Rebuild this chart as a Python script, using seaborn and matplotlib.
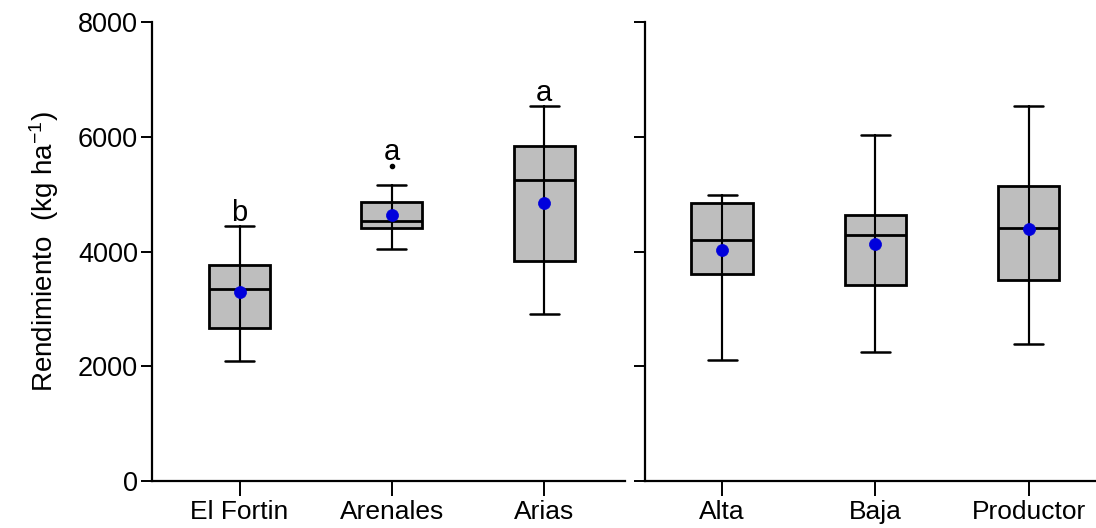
import matplotlib
matplotlib.use("Agg")
import matplotlib.pyplot as plt
import seaborn as sns
import pandas as pd
import numpy as np

# ---- data ----
loc_names = ["El Fortin", "Arenales", "Arias"]
loc_whislo = [2100, 4050, 2920]
loc_q1 = [2670, 4410, 3830]
loc_med = [3345, 4540, 5240]
loc_q3 = [3760, 4860, 5840]
loc_whishi = [4445, 5155, 6530]
loc_mean = [3290, 4645, 4840]
loc_fliers = [[], [5500], []]
loc_letters = ["b", "a", "a"]

amb_names = ["Alta", "Baja", "Productor"]
amb_whislo = [2110, 2255, 2385]
amb_q1 = [3605, 3420, 3510]
amb_med = [4200, 4290, 4420]
amb_q3 = [4850, 4635, 5150]
amb_whishi = [4995, 6025, 6545]
amb_mean = [4020, 4125, 4390]

y_ticks = [0, 2000, 4000, 6000, 8000]

sns.set_theme(style="ticks")
plt.rcParams["font.family"] = ["Liberation Sans", "DejaVu Sans"]
plt.rcParams["mathtext.fontset"] = "custom"
plt.rcParams["mathtext.rm"] = "Liberation Sans"
plt.rcParams["mathtext.it"] = "Liberation Sans"
plt.rcParams["text.color"] = "black"
plt.rcParams["axes.labelcolor"] = "black"

fig = plt.figure(figsize=(10.96, 5.28), dpi=100)
ax1 = fig.add_axes([0.1387, 0.0890, 0.4316, 0.869])
ax2 = fig.add_axes([0.5885, 0.0890, 0.4115, 0.869])

box_face = "#bebebe"
FS = 19


def draw(ax, names, wlo, q1, med, q3, whi, mean, fliers=None):
    stats = []
    for i in range(len(names)):
        stats.append(dict(med=med[i], q1=q1[i], q3=q3[i], whislo=wlo[i], whishi=whi[i],
                          fliers=(fliers[i] if fliers else []), label=names[i]))
    ax.bxp(stats, positions=list(range(len(names))), widths=0.40, patch_artist=True,
           showfliers=True, manage_ticks=False,
           boxprops=dict(facecolor=box_face, edgecolor="black", linewidth=2.0),
           medianprops=dict(color="black", linewidth=2.0),
           whiskerprops=dict(color="black", linewidth=1.5),
           capprops=dict(color="black", linewidth=1.8),
           capwidths=0.19,
           flierprops=dict(marker="o", markersize=3, markerfacecolor="black",
                           markeredgecolor="black"),
           zorder=2)
    # vertical whisker line passes through the box in the reference
    for i in range(len(names)):
        ax.plot([i, i], [wlo[i], whi[i]], color="black", linewidth=1.5, zorder=3)
    df = pd.DataFrame({"x": list(range(len(names))), "mean": mean})
    sns.scatterplot(data=df, x="x", y="mean", ax=ax, color="#0000dc", s=75,
                    edgecolor="#0000dc", linewidth=0.5, zorder=5, legend=False)
    ax.set_xticks(range(len(names)))
    ax.set_xticklabels(names, fontsize=FS)
    ax.set_ylim(0, 8000)
    ax.set_yticks(y_ticks)
    ax.set_xlabel("")
    ax.set_ylabel("")
    for s in ["top", "right"]:
        ax.spines[s].set_visible(False)
    for s in ["left", "bottom"]:
        ax.spines[s].set_linewidth(1.6)
        ax.spines[s].set_color("black")
    ax.tick_params(axis="y", length=8, width=1.4, colors="black", labelsize=19.5, pad=2)
    ax.tick_params(axis="x", length=11, width=1.4, colors="black", labelsize=FS, pad=3)


draw(ax1, loc_names, loc_whislo, loc_q1, loc_med, loc_q3, loc_whishi, loc_mean, loc_fliers)
ax1.set_xlim(-0.575, 2.53)
for i, t in enumerate(loc_letters):
    top = max([loc_whishi[i]] + loc_fliers[i])
    ax1.text(i, top + 230, t, ha="center", va="center", fontsize=21, color="black")
ax1.set_ylabel("Rendimiento  (kg ha$^{-1}$)", fontsize=20, labelpad=12, color="black")

draw(ax2, amb_names, amb_whislo, amb_q1, amb_med, amb_q3, amb_whishi, amb_mean)
ax2.set_xlim(-0.503, 2.44)
ax2.set_yticklabels([])

fig.savefig("out.png", dpi=100)
